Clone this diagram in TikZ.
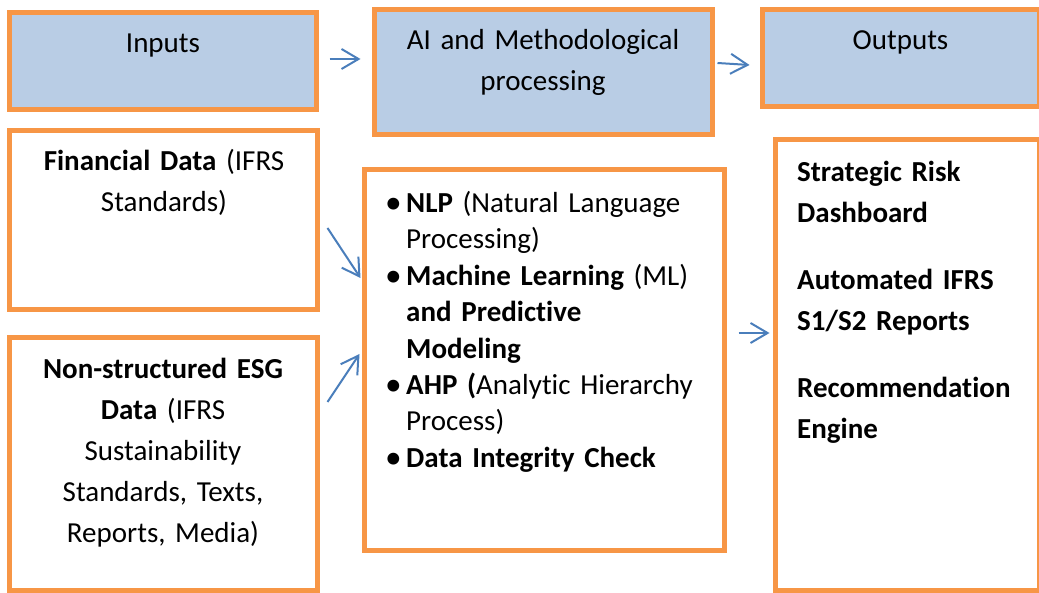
\documentclass[tikz,border=0pt]{standalone}
\usepackage{fontspec}
\setmainfont{Carlito}[Ligatures=NoCommon]
\usepackage{tikz}
\usetikzlibrary{arrows.meta, positioning}
\definecolor{boxorange}{HTML}{F79646}
\definecolor{headblue}{HTML}{B9CDE5}
\definecolor{flowblue}{HTML}{4A7EBB}
\newcommand{\bul}{\noindent\hangindent=18pt\hangafter=1\makebox[18pt][l]{\hspace{-3pt}\raisebox{-1pt}{\scalebox{1.15}{\textbullet}}}}
\tikzset{
x=1pt, y=-1pt, % one unit is one pixel of the layout, y runs downwards
frame/.style={draw=boxorange, line width=5pt, inner sep=0pt, fill=white}, % the orange frame of every box
headbox/.style={frame, fill=headblue}, % the three heading boxes on top
flow/.style={draw=flowblue, line width=2pt, -{Straight Barb[length=17pt, width=20pt]}}, % the thin blue arrows
boxtext/.style={anchor=base, align=center, inner sep=0pt, font=\fontsize{29}{41}\selectfont}, % centred text inside a box
listtext/.style={anchor=base west, align=left, inner sep=0pt}, % left aligned lists
}

\begin{document}
\begin{tikzpicture}
      \useasboundingbox (0,0) rectangle (1039,593);

      % heading row
      \node[headbox, minimum width=307pt, minimum height=97pt] (inputs) at (163,61) {};
      \node[headbox, minimum width=338pt, minimum height=124.5pt] (ai) at (543.5,72.25) {};
      \node[headbox, minimum width=276.5pt, minimum height=97pt] (outputs) at (900.75,58) {};

      % content boxes
      \node[frame, minimum width=307.5pt, minimum height=179pt] (fin) at (163.25,220) {};
      \node[frame, minimum width=307.5pt, minimum height=253pt] (esg) at (163.25,464) {};
      \node[frame, minimum width=360pt, minimum height=381pt] (proc) at (544.5,360) {};
      \node[frame, minimum width=263.5pt, minimum height=451pt] (res) at (907.25,365) {};

      % texts
      \node[boxtext] (inputs-t) at (163,53) {Inputs};
      \node[boxtext, text width=330pt] (ai-t) at (543,50) {AI and Methodological\\processing};
      \node[boxtext] (outputs-t) at (900.5,50) {Outputs};
      \node[boxtext, text width=300pt] (fin-t) at (164,171) {\textbf{Financial Data} (IFRS\\Standards)};
      \node[boxtext, text width=300pt] (esg-t) at (163,379)
        {\textbf{Non-structured ESG}\\\textbf{Data} (IFRS\\Sustainability\\Standards, Texts,\\Reports, Media)};
      \node[listtext, text width=320pt, font=\fontsize{29}{36.4}\selectfont] (proc-t) at (388,212.5)
        {\bul \textbf{NLP} (Natural Language\newline Processing)\par
         \bul \textbf{Machine Learning} (ML)\newline\textbf{and Predictive}\newline\textbf{Modeling}\par
         \bul \textbf{AHP (}Analytic Hierarchy\newline Process)\par
         \bul \textbf{Data Integrity Check}};
      \node[listtext, text width=240pt, font=\fontsize{29}{41}\selectfont\bfseries] (res-t) at (797,182)
        {Strategic Risk\\Dashboard\\[26pt]Automated IFRS\\S1/S2 Reports\\[26pt]Recommendation\\Engine};

      % arrows
      \draw[flow] ([xshift=10.5pt, yshift=2pt]inputs.east) -- ([xshift=-11.5pt, yshift=13.25pt]ai.west);
      \draw[flow] ([xshift=2.5pt, yshift=9.25pt]ai.east) -- ([xshift=-10.5pt, yshift=-7pt]outputs.west);
      \draw[flow] ([xshift=8pt, yshift=-8pt]fin.east) -- ([xshift=-1.5pt, yshift=82pt]proc.west);
      \draw[flow] ([xshift=8pt, yshift=62pt]esg.east) -- ([xshift=-2.5pt, yshift=6pt]proc.west);
      \draw[flow] ([xshift=11.5pt, yshift=27pt]proc.east) -- ([xshift=-3.5pt, yshift=32pt]res.west);
\end{tikzpicture}
\end{document}
